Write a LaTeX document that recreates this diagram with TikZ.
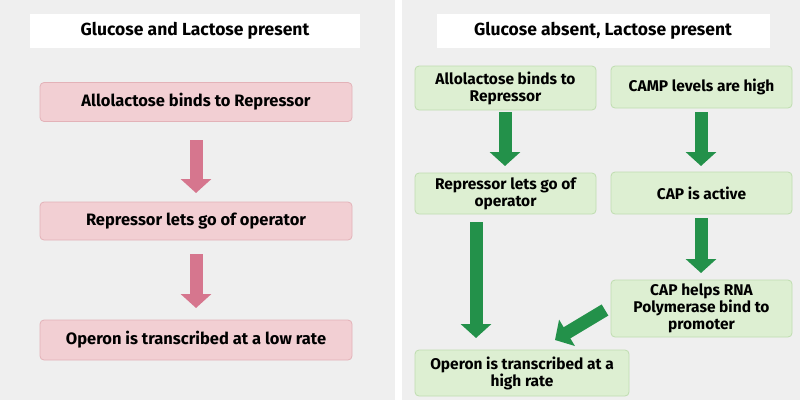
\documentclass[tikz,border=0pt]{standalone}
\usepackage{fontspec}
\setmainfont{Fira Sans}
\usetikzlibrary{arrows.meta}
\definecolor{bg}{HTML}{EFEFEF}
\definecolor{pinkf}{HTML}{F2CFD3}
\definecolor{pinkd}{HTML}{E3B2B8}
\definecolor{pinka}{HTML}{D6768E}
\definecolor{greenf}{HTML}{DDEFD2}
\definecolor{greend}{HTML}{BFDDB0}
\definecolor{greena}{HTML}{23914A}
\begin{document}
\begin{tikzpicture}[x=1pt,y=-1pt,
  title/.style={fill=white,font=\fontsize{17.5}{20}\selectfont\bfseries,inner sep=0},
  pbox/.style={draw=pinkd,fill=pinkf,rounded corners=4pt,line width=0.8pt,font=\fontsize{16.5}{19}\selectfont\bfseries,align=center,inner sep=0},
  gbox/.style={draw=greend,fill=greenf,rounded corners=4pt,line width=0.8pt,font=\fontsize{15.5}{17}\selectfont\bfseries,align=center,inner sep=0},
  parr/.style={-{Triangle[width=30pt,length=14pt]},line width=13pt,draw=pinka},
  garr/.style={-{Triangle[width=30pt,length=14pt]},line width=13pt,draw=greena}]
\useasboundingbox (0,0) rectangle (800,400);
\fill[bg] (0,0) rectangle (395,400);
\fill[bg] (402,0) rectangle (800,400);
\node[title,minimum width=330pt,minimum height=34pt] (t1) at (195,31) {Glucose and Lactose present};
\node[title,minimum width=333pt,minimum height=34pt] (t2) at (603,31) {Glucose absent, Lactose present};
\node[pbox,minimum width=312pt,minimum height=39pt] (p1) at (196,102) {Allolactose binds to Repressor};
\node[pbox,minimum width=312pt,minimum height=38pt] (p2) at (196,221) {Repressor lets go of operator};
\node[pbox,minimum width=312pt,minimum height=40pt] (p3) at (196,340) {Operon is transcribed at a low rate};
\draw[parr] (196,140) -- (196,193);
\draw[parr] (196,254) -- (196,308);
\node[gbox,minimum width=181pt,minimum height=44pt] (a) at (505.5,88) {Allolactose binds to\\Repressor};
\node[gbox,minimum width=181pt,minimum height=42pt] (b) at (701.5,87) {CAMP levels are high};
\node[gbox,minimum width=181pt,minimum height=41pt] (c) at (505.5,193.5) {Repressor lets go of\\operator};
\node[gbox,minimum width=181pt,minimum height=42pt] (d) at (701.5,193) {CAP is active};
\node[gbox,minimum width=181pt,minimum height=57pt] (e) at (701.5,308.5) {CAP helps RNA\\Polymerase bind to\\promoter};
\node[gbox,minimum width=214pt,minimum height=46pt] (f) at (522,373) {Operon is transcribed at a\\high rate};
\draw[garr] (505,112) -- (505,166);
\draw[garr] (701,112) -- (701,166);
\draw[garr] (701,218) -- (701,273);
\draw[garr] (476,222) -- (476,338);
\draw[garr] (605,310) -- (555,340);
\end{tikzpicture}
\end{document}
